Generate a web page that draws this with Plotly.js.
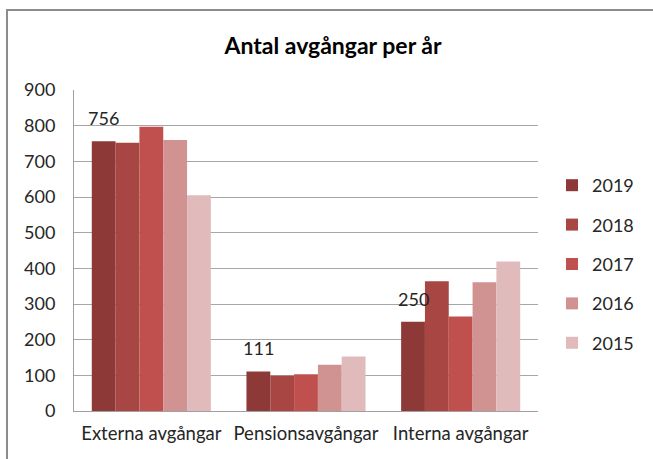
<!DOCTYPE html>
<html>
<head>
<meta charset="utf-8">
<script src="https://cdn.plot.ly/plotly-3.0.1.min.js"></script>
<style>
html,body{margin:0;padding:0;background:#fff;}
#wrap{position:relative;width:653px;height:459px;}
#chart{position:absolute;left:0;top:0;width:653px;height:459px;}
#frame{position:absolute;left:6px;top:9px;width:647px;height:450px;border-top:2px solid #8c8c8c;border-left:2px solid #8c8c8c;pointer-events:none;}
</style>
</head>
<body>
<div id="wrap"><div id="chart"></div><div id="frame"></div></div>
<script>
const categories = ["Externa avgångar", "Pensionsavgångar", "Interna avgångar"];
const years = ["2019", "2018", "2017", "2016", "2015"];
const v2019 = [756, 111, 250];
const v2018 = [752, 99, 364];
const v2017 = [797, 103, 265];
const v2016 = [760, 130, 361];
const v2015 = [605, 153, 419];
const colors = ["#8d3937", "#a84644", "#c0504d", "#d19392", "#e1bbbb"];
const labelledSeries = 0; // only 2019 carries data labels

const series = [v2019, v2018, v2017, v2016, v2015];
const font = "Lato, 'Liberation Sans', sans-serif";
const BARGAP = 0.23;

const traces = series.map((vals, i) => ({
  type: "bar",
  name: years[i],
  x: categories,
  y: vals,
  marker: {color: colors[i], line: {width: 0}},
  legendgroup: years[i],
  hoverinfo: "skip"
}));

// data labels for the labelled series, placed at that bar's slot in the group
const groupW = 1 - BARGAP;
const barW = groupW / series.length;
const slotOffset = -groupW / 2 + barW * (labelledSeries + 0.5);
const annotations = series[labelledSeries].map((v, ci) => ({
  xref: "x", yref: "y",
  x: ci + slotOffset, y: v,
  text: String(v),
  showarrow: false,
  xanchor: "center", yanchor: "bottom",
  yshift: 10,
  font: {family: font, size: 18, color: "#262626"}
}));

const layout = {
  width: 653, height: 459,
  margin: {l: 74, r: 115, t: 90, b: 48},
  paper_bgcolor: "#ffffff",
  plot_bgcolor: "#ffffff",
  barmode: "group",
  bargap: BARGAP,
  bargroupgap: 0,
  showlegend: true,
  annotations: annotations,
  title: {
    text: "<b>Antal avgångar per år</b>",
    font: {family: font, size: 23, color: "#000000"},
    x: 0.51, xref: "container", xanchor: "center",
    y: 1 - 46/459, yref: "container", yanchor: "middle"
  },
  xaxis: {
    type: "category",
    showgrid: false,
    showline: true, linecolor: "#a0a0a0", linewidth: 1,
    ticks: "",
    tickfont: {family: font, size: 18.5, color: "#262626"},
    ticklabelstandoff: 6,
    fixedrange: true
  },
  yaxis: {
    range: [0, 900],
    tickvals: [0, 100, 200, 300, 400, 500, 600, 700, 800, 900],
    ticktext: ["0", "100", "200", "300", "400", "500", "600", "700", "800", "900"],
    showgrid: true, gridcolor: "#a6a6a6", gridwidth: 1,
    showline: true, linecolor: "#a0a0a0", linewidth: 1,
    zeroline: false,
    ticks: "",
    tickfont: {family: font, size: 18, color: "#262626"},
    ticklabelstandoff: 14,
    fixedrange: true
  },
  legend: {
    xref: "container", yref: "container",
    x: 552/653, xanchor: "left",
    y: 1 - 167/459, yanchor: "top",
    font: {family: font, size: 18, color: "#262626"},
    tracegroupgap: 13,
    traceorder: "grouped",
    bgcolor: "rgba(0,0,0,0)"
  }
};

Plotly.newPlot("chart", traces, layout, {displayModeBar: false, staticPlot: true});
</script>
</body>
</html>
